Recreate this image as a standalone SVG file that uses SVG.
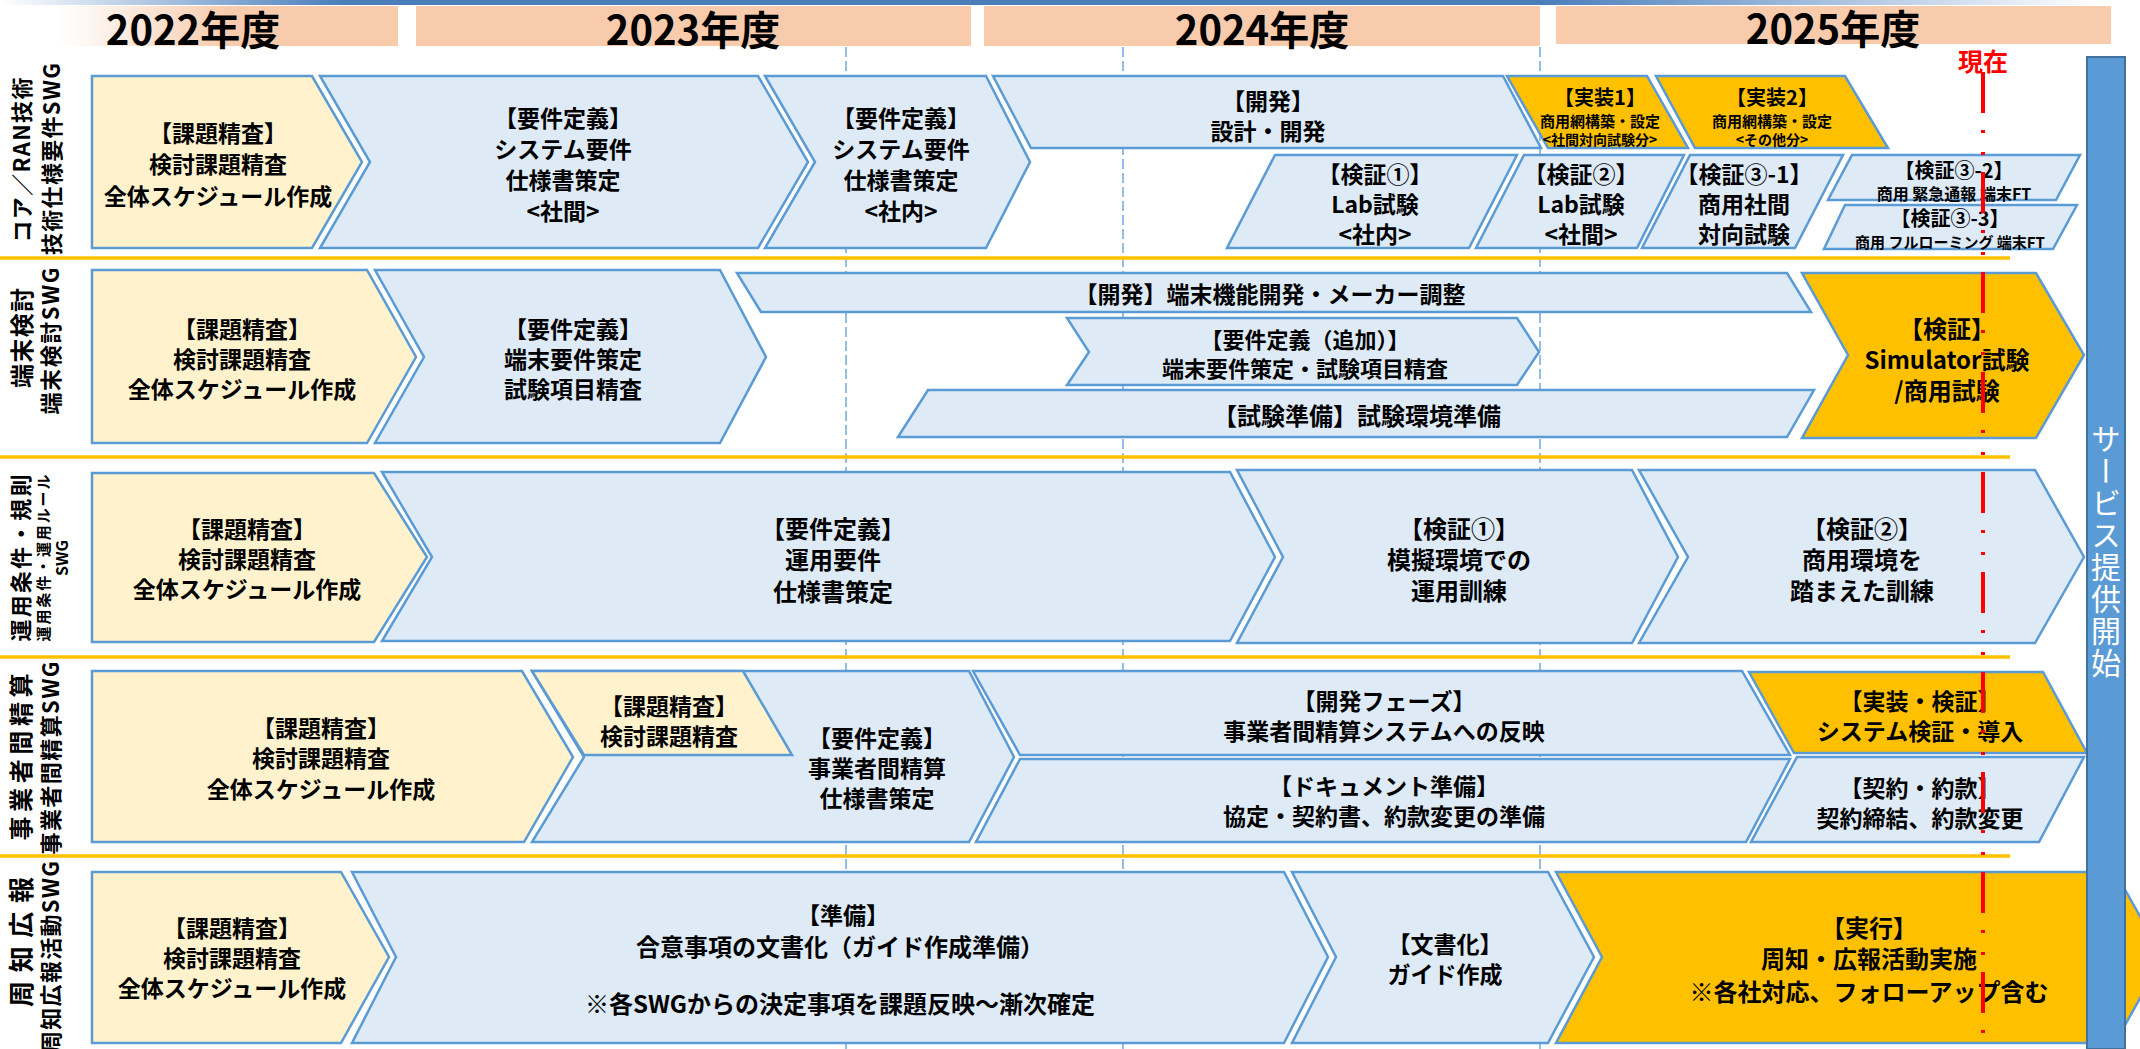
<svg xmlns="http://www.w3.org/2000/svg" width="2140" height="1049" viewBox="0 0 2140 1049">
<defs>
<linearGradient id="topbar" x1="0" y1="0" x2="1" y2="0">
<stop offset="0" stop-color="#FFFFFF"/>
<stop offset="0.16" stop-color="#4A7EBB"/>
<stop offset="0.72" stop-color="#4A7EBB"/>
<stop offset="0.98" stop-color="#FFFFFF"/>
</linearGradient>
<linearGradient id="y2022" x1="0" y1="0" x2="1" y2="0">
<stop offset="0" stop-color="#FFFFFF"/>
<stop offset="0.5" stop-color="#F8CBAD"/>
<stop offset="1" stop-color="#F8CBAD"/>
</linearGradient>
<style>
.yr{fill:#F8CBAD}
.t{font-family:"Noto Sans CJK JP","Noto Sans",sans-serif;font-weight:700;font-size:24px;text-anchor:middle;dominant-baseline:central;fill:#000}
.f23{font-size:23px}
.f22{font-size:22px}
.f20{font-size:20px}
.f16{font-size:16px}
.f15{font-size:15px}
.f14{font-size:14px}
.yt{font-size:40px}
.lab{font-family:"Noto Sans CJK JP","Noto Sans",sans-serif;font-weight:700;font-size:22px;text-anchor:middle;dominant-baseline:central;fill:#000}
.bl{fill:#DEEBF7;stroke:#5B9BD5;stroke-width:2.5;stroke-linejoin:miter}
.ye{fill:#FFF2CC;stroke:#5B9BD5;stroke-width:2.5}
.or{fill:#FFC000;stroke:#5B9BD5;stroke-width:2.5}
.sep{stroke:#FFC000;stroke-width:3.5}
.vd{stroke:#5B9BD5;stroke-width:1.3;stroke-dasharray:10 4}
</style>
</defs>
<rect width="2140" height="1049" fill="#FFFFFF"/>
<rect x="0" y="0" width="2140" height="5" fill="url(#topbar)"/>

<g id="header">
<rect x="60" y="6" width="338" height="40" fill="url(#y2022)"/>
<rect class="yr" x="416" y="6" width="555" height="40"/>
<rect class="yr" x="984" y="6" width="556" height="40"/>
<rect class="yr" x="1556" y="6" width="555" height="38"/>
<text class="t yt" x="193" y="28">2022年度</text>
<text class="t yt" x="693" y="28">2023年度</text>
<text class="t yt" x="1262" y="28">2024年度</text>
<text class="t yt" x="1833" y="27">2025年度</text>
</g>

<g id="gridlines">
<line class="vd" x1="846" y1="47" x2="846" y2="1049"/>
<line class="vd" x1="1123" y1="47" x2="1123" y2="1049"/>
<line class="vd" x1="1540" y1="47" x2="1540" y2="1049"/>
<line class="sep" x1="0" y1="258" x2="2010" y2="258"/>
<line class="sep" x1="0" y1="457" x2="2010" y2="457"/>
<line class="sep" x1="0" y1="657" x2="2010" y2="657"/>
<line class="sep" x1="0" y1="856" x2="2010" y2="856"/>
</g>

<g id="labels">
<text class="lab" transform="translate(20,160) rotate(-90)" textLength="165" lengthAdjust="spacing">コア／RAN技術</text>
<text class="lab" transform="translate(50,159) rotate(-90)" textLength="192" lengthAdjust="spacing">技術仕様要件SWG</text>
<text class="lab" style="font-size:24px" transform="translate(20,338) rotate(-90)" textLength="100" lengthAdjust="spacing">端末検討</text>
<text class="lab" transform="translate(49,341) rotate(-90)" textLength="147" lengthAdjust="spacing">端末検討SWG</text>
<text class="lab" transform="translate(19,558) rotate(-90)" textLength="167" lengthAdjust="spacing">運用条件・規則</text>
<text class="lab" style="font-size:15px" transform="translate(42,558) rotate(-90)" textLength="167" lengthAdjust="spacing">運用条件・運用ルール</text>
<text class="lab" style="font-size:16px" transform="translate(61,558) rotate(-90)">SWG</text>
<text class="lab" style="font-size:24px" transform="translate(19,757) rotate(-90)" textLength="167" lengthAdjust="spacing">事業者間精算</text>
<text class="lab" transform="translate(49,758) rotate(-90)" textLength="193" lengthAdjust="spacing">事業者間精算SWG</text>
<text class="lab" style="font-size:26px" transform="translate(19,942) rotate(-90)" textLength="130" lengthAdjust="spacing">周知広報</text>
<text class="lab" transform="translate(49,957) rotate(-90)" textLength="192" lengthAdjust="spacing">周知広報活動SWG</text>
</g>

<g id="row1">
<g id="r1-kadai"><polygon class="ye" points="92,76 312,76 362,162 312,248 92,248"/>
<text class="t f23" x="218" y="132">【課題精査】</text><text class="t f23" x="218" y="163">検討課題精査</text><text class="t f23" x="218" y="195">全体スケジュール作成</text></g>
<g id="r1-yoken1"><polygon class="bl" points="320,76 758,76 808,162 758,248 320,248 370,162"/>
<text class="t f23" x="563" y="117">【要件定義】</text><text class="t f23" x="563" y="148">システム要件</text><text class="t f23" x="563" y="179">仕様書策定</text><text class="t f23" x="563" y="210">&lt;社間&gt;</text></g>
<g id="r1-yoken2"><polygon class="bl" points="765,76 986,76 1030,162 986,248 765,248 815,162"/>
<text class="t f23" x="901" y="117">【要件定義】</text><text class="t f23" x="901" y="148">システム要件</text><text class="t f23" x="901" y="179">仕様書策定</text><text class="t f23" x="901" y="210">&lt;社内&gt;</text></g>
<g id="r1-kaihatsu"><polygon class="bl" points="993,76 1503,76 1541,148 1031,148"/>
<text class="t f23" x="1268" y="100">【開発】</text><text class="t f23" x="1268" y="130">設計・開発</text></g>
<g id="r1-jisso1"><polygon class="or" points="1507,76 1647,76 1688,148 1548,148"/>
<text class="t f20" x="1600" y="96">【実装1】</text><text class="t f15" x="1600" y="120">商用網構築・設定</text><text class="t f14" x="1600" y="139">&lt;社間対向試験分&gt;</text></g>
<g id="r1-jisso2"><polygon class="or" points="1656,76 1845,76 1888,148 1695,148"/>
<text class="t f20" x="1772" y="96">【実装2】</text><text class="t f15" x="1772" y="120">商用網構築・設定</text><text class="t f14" x="1772" y="139">&lt;その他分&gt;</text></g>
<g id="r1-kensho1"><polygon class="bl" points="1275,155 1517,155 1469,248 1227,248"/>
<text class="t f23" x="1375" y="173">【検証①】</text><text class="t f23" x="1375" y="203">Lab試験</text><text class="t f23" x="1375" y="233">&lt;社内&gt;</text></g>
<g id="r1-kensho2"><polygon class="bl" points="1524,155 1684,155 1637,248 1476,248"/>
<text class="t f23" x="1581" y="173">【検証②】</text><text class="t f23" x="1581" y="203">Lab試験</text><text class="t f23" x="1581" y="233">&lt;社間&gt;</text></g>
<g id="r1-kensho31"><polygon class="bl" points="1690,155 1843,155 1795,248 1642,248"/>
<text class="t f23" x="1744" y="173">【検証③-1】</text><text class="t f23" x="1744" y="203">商用社間</text><text class="t f23" x="1744" y="233">対向試験</text></g>
<g id="r1-kensho32"><polygon class="bl" points="1852,155 2080,155 2056,200 1828,200"/>
<text class="t f20" x="1954" y="169">【検証③-2】</text><text class="t f16" x="1954" y="193">商用 緊急通報 端末FT</text></g>
<g id="r1-kensho33"><polygon class="bl" points="1845,205 2077,205 2053,249 1824,249"/>
<text class="t f20" x="1950" y="217">【検証③-3】</text><text class="t f15" x="1950" y="241">商用 フルローミング 端末FT</text></g>
</g>

<g id="row2">
<g id="r2-kadai"><polygon class="ye" points="92,270 367,270 416,357 367,443 92,443"/>
<text class="t f23" x="242" y="328">【課題精査】</text><text class="t f23" x="242" y="358">検討課題精査</text><text class="t f23" x="242" y="388">全体スケジュール作成</text></g>
<g id="r2-yoken"><polygon class="bl" points="375,270 720,270 766,357 720,443 375,443 424,357"/>
<text class="t f23" x="573" y="328">【要件定義】</text><text class="t f23" x="573" y="358">端末要件策定</text><text class="t f23" x="573" y="388">試験項目精査</text></g>
<g id="r2-kaihatsu"><polygon class="bl" points="737,273 1787,273 1811,312 761,312"/>
<text class="t f23" x="1270" y="293">【開発】端末機能開発・メーカー調整</text></g>
<g id="r2-tsuika"><polygon class="bl" points="1067,318 1517,318 1539,352 1517,385 1067,385 1089,352"/>
<text class="t f22" x="1305" y="338">【要件定義（追加）】</text><text class="t f22" x="1305" y="367">端末要件策定・試験項目精査</text></g>
<g id="r2-junbi"><polygon class="bl" points="928,390 1814,390 1787,437 898,437"/>
<text class="t" x="1357" y="414">【試験準備】試験環境準備</text></g>
<g id="r2-kensho"><polygon class="or" points="1802,273 2036,273 2084,355 2036,438 1802,438 1848,355"/>
<text class="t" x="1947" y="327">【検証】</text><text class="t" x="1947" y="358">Simulator試験</text><text class="t" x="1947" y="389">/商用試験</text></g>
</g>

<g id="row3">
<g id="r3-kadai"><polygon class="ye" points="92,473 374,473 427,557 374,642 92,642"/>
<text class="t f23" x="247" y="528">【課題精査】</text><text class="t f23" x="247" y="558">検討課題精査</text><text class="t f23" x="247" y="588">全体スケジュール作成</text></g>
<g id="r3-yoken"><polygon class="bl" points="382,472 1230,472 1275,557 1230,641 382,641 432,557"/>
<text class="t" x="833" y="527">【要件定義】</text><text class="t" x="833" y="558">運用要件</text><text class="t" x="833" y="590">仕様書策定</text></g>
<g id="r3-kensho1"><polygon class="bl" points="1237,470 1632,470 1678,557 1632,643 1237,643 1283,557"/>
<text class="t" x="1459" y="527">【検証①】</text><text class="t" x="1459" y="558">模擬環境での</text><text class="t" x="1459" y="589">運用訓練</text></g>
<g id="r3-kensho2"><polygon class="bl" points="1639,470 2035,470 2084,557 2035,643 1639,643 1688,557"/>
<text class="t" x="1862" y="527">【検証②】</text><text class="t" x="1862" y="558">商用環境を</text><text class="t" x="1862" y="589">踏まえた訓練</text></g>
</g>

<g id="row4">
<g id="r4-kadai"><polygon class="ye" points="92,671 522,671 573,757 524,842 92,842"/>
<text class="t f23" x="321" y="727">【課題精査】</text><text class="t f23" x="321" y="757">検討課題精査</text><text class="t f23" x="321" y="788">全体スケジュール作成</text></g>
<g id="r4-yoken"><polygon class="bl" points="532,671 969,671 1014,757 969,842 532,842 584,757"/>
<text class="t f23" x="877" y="737">【要件定義】</text><text class="t f23" x="877" y="767">事業者間精算</text><text class="t f23" x="877" y="797">仕様書策定</text></g>
<g id="r4-kadai2"><polygon class="ye" points="532,671 743,671 792,755 584,755"/>
<text class="t f23" x="669" y="705">【課題精査】</text><text class="t f23" x="669" y="735">検討課題精査</text></g>
<g id="r4-kaihatsu"><polygon class="bl" points="973,671 1742,671 1790,755 1020,755"/>
<text class="t f23" x="1384" y="700">【開発フェーズ】</text><text class="t f23" x="1384" y="730">事業者間精算システムへの反映</text></g>
<g id="r4-document"><polygon class="bl" points="1020,759 1790,759 1746,842 976,842"/>
<text class="t f23" x="1384" y="785">【ドキュメント準備】</text><text class="t f23" x="1384" y="815">協定・契約書、約款変更の準備</text></g>
<g id="r4-jisso"><polygon class="or" points="1749,672 2043,672 2087,753 1794,753"/>
<text class="t f23" x="1920" y="700">【実装・検証】</text><text class="t f23" x="1920" y="730">システム検証・導入</text></g>
<g id="r4-keiyaku"><polygon class="bl" points="1797,757 2084,757 2039,842 1751,842"/>
<text class="t f23" x="1920" y="787">【契約・約款】</text><text class="t f23" x="1920" y="817">契約締結、約款変更</text></g>
</g>

<g id="row5">
<g id="r5-kadai"><polygon class="ye" points="92,872 341,872 389,957 341,1043 92,1043"/>
<text class="t f23" x="232" y="927">【課題精査】</text><text class="t f23" x="232" y="957">検討課題精査</text><text class="t f23" x="232" y="987">全体スケジュール作成</text></g>
<g id="r5-junbi"><polygon class="bl" points="352,872 1284,872 1328,957 1284,1043 352,1043 396,957"/>
<text class="t f23" x="843" y="914">【準備】</text><text class="t" x="840" y="945">合意事項の文書化（ガイド作成準備）</text><text class="t" x="840" y="1002">※各SWGからの決定事項を課題反映～漸次確定</text></g>
<g id="r5-bunsho"><polygon class="bl" points="1292,872 1548,872 1594,957 1548,1043 1292,1043 1336,957"/>
<text class="t f23" x="1445" y="943">【文書化】</text><text class="t f23" x="1445" y="973">ガイド作成</text></g>
<g id="r5-jikko"><polygon class="or" points="1556,872 2115,872 2163,957 2115,1043 1556,1043 1602,957"/>
<text class="t" x="1869" y="926">【実行】</text><text class="t" x="1869" y="957">周知・広報活動実施</text><text class="t" x="1869" y="990">※各社対応、フォローアップ含む</text></g>
</g>

<g id="service-start">
<rect x="2087" y="57" width="38" height="992" fill="#5B9BD5" stroke="#41719C" stroke-width="2"/>
<text x="2106" y="552" style="writing-mode:vertical-rl;font-family:'Noto Sans CJK JP','Noto Sans',sans-serif;font-size:30px;letter-spacing:2px;text-anchor:middle;fill:#FFFFFF">サービス提供開始</text>
</g>

<g id="now">
<line x1="1983" y1="72" x2="1983" y2="1049" stroke="#FF0000" stroke-width="4" stroke-dasharray="41 17 3 19 3 17"/>
<text class="t" x="1983" y="60" style="fill:#FF0000;font-size:25px">現在</text>
</g>
</svg>
